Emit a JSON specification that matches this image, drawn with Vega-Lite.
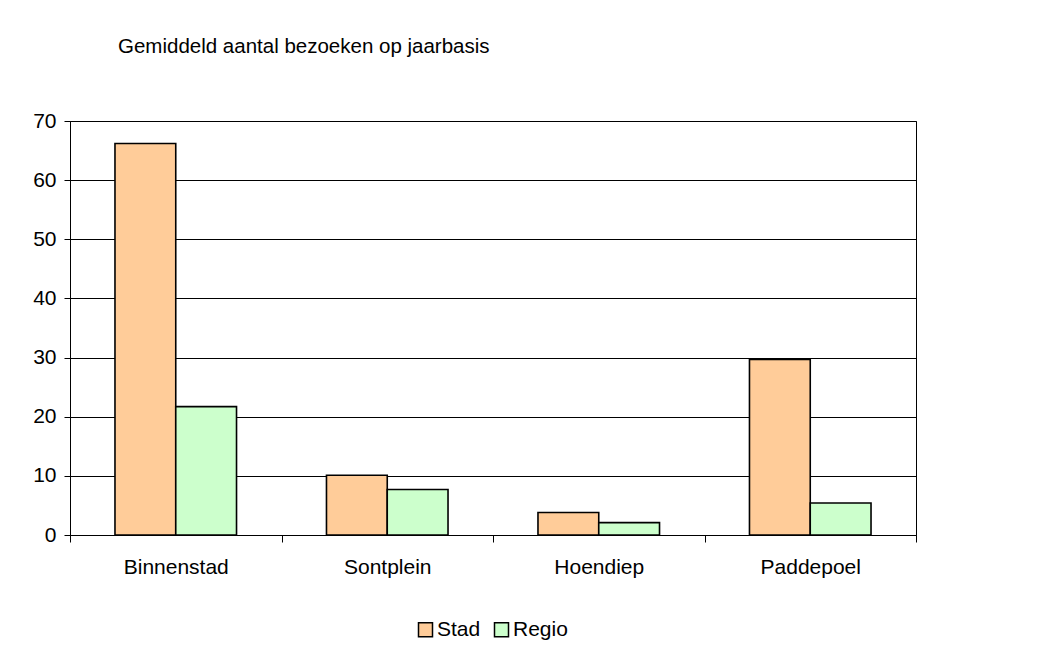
{
  "$schema": "https://vega.github.io/schema/vega-lite/v6.json",
  "width": 846,
  "height": 414,
  "autosize": {"type": "none"},
  "padding": {"left": 70, "top": 121, "right": 137, "bottom": 124},
  "background": "white",
  "title": {
    "text": "Gemiddeld aantal bezoeken op jaarbasis",
    "anchor": "start",
    "frame": "group",
    "dx": 48,
    "offset": 37,
    "baseline": "alphabetic",
    "font": "Liberation Sans",
    "fontSize": 20.5,
    "fontWeight": "normal",
    "color": "black"
  },
  "data": {
    "values": [
      {"locatie": "Binnenstad", "herkomst": "Stad", "bezoeken": 66.2},
      {"locatie": "Binnenstad", "herkomst": "Regio", "bezoeken": 21.7},
      {"locatie": "Sontplein", "herkomst": "Stad", "bezoeken": 10.1},
      {"locatie": "Sontplein", "herkomst": "Regio", "bezoeken": 7.7},
      {"locatie": "Hoendiep", "herkomst": "Stad", "bezoeken": 3.8},
      {"locatie": "Hoendiep", "herkomst": "Regio", "bezoeken": 2.1},
      {"locatie": "Paddepoel", "herkomst": "Stad", "bezoeken": 29.7},
      {"locatie": "Paddepoel", "herkomst": "Regio", "bezoeken": 5.4}
    ]
  },
  "mark": {"type": "bar", "stroke": "black", "strokeWidth": 1.6},
  "encoding": {
    "x": {
      "field": "locatie",
      "type": "nominal",
      "sort": ["Binnenstad", "Sontplein", "Hoendiep", "Paddepoel"],
      "scale": {"paddingInner": 0, "paddingOuter": 0},
      "axis": {
        "title": null,
        "labelAngle": 0,
        "tickBand": "extent",
        "tickSize": 7,
        "labelPadding": 14,
        "grid": false
      }
    },
    "xOffset": {
      "field": "herkomst",
      "type": "nominal",
      "sort": ["Stad", "Regio"],
      "scale": {"paddingInner": 0, "paddingOuter": 0.74}
    },
    "y": {
      "field": "bezoeken",
      "type": "quantitative",
      "scale": {"domain": [0, 70], "nice": false},
      "axis": {
        "title": null,
        "values": [0, 10, 20, 30, 40, 50, 60, 70],
        "tickSize": 6,
        "labelPadding": 8,
        "grid": true
      }
    },
    "color": {
      "field": "herkomst",
      "type": "nominal",
      "sort": ["Stad", "Regio"],
      "scale": {"domain": ["Stad", "Regio"], "range": ["#FFCC99", "#CCFFCC"]},
      "legend": {
        "title": null,
        "orient": "none",
        "legendX": 345,
        "legendY": 498,
        "direction": "horizontal",
        "symbolType": "square",
        "symbolSize": 196,
        "symbolStrokeColor": "black",
        "symbolStrokeWidth": 1.5,
        "symbolOpacity": 1,
        "columnPadding": 10,
        "labelOffset": 1
      }
    }
  },
  "config": {
    "font": "Liberation Sans",
    "view": {"stroke": "black", "strokeWidth": 1},
    "axis": {
      "labelFont": "Liberation Sans",
      "labelFontSize": 21,
      "labelColor": "black",
      "domainColor": "black",
      "domainWidth": 1,
      "tickColor": "black",
      "tickWidth": 1,
      "gridColor": "black",
      "gridWidth": 1,
      "gridOpacity": 1
    },
    "legend": {
      "labelFont": "Liberation Sans",
      "labelFontSize": 21,
      "labelColor": "black"
    }
  }
}
